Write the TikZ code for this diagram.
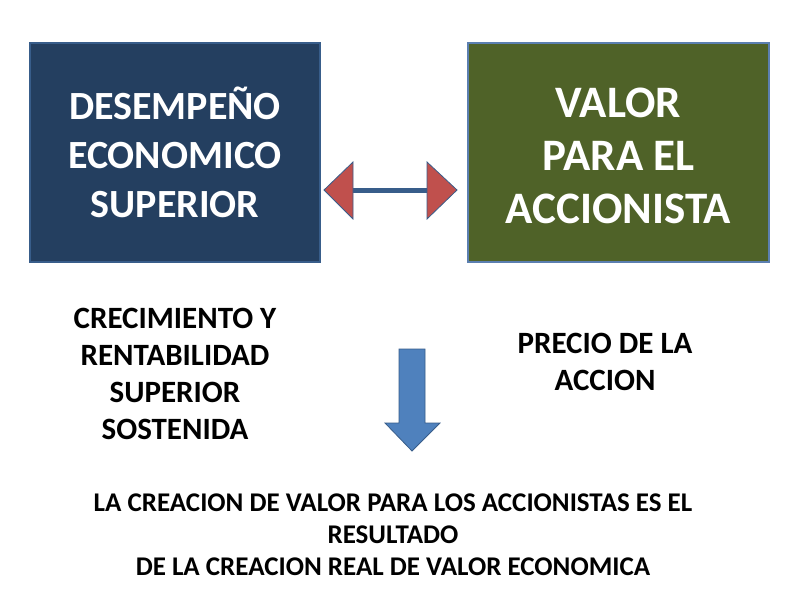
\documentclass[tikz,border=0pt]{standalone}
\usepackage{fontspec}
\setmainfont{Carlito}
\definecolor{azuloscuro}{HTML}{243F60}
\definecolor{bordeazul}{HTML}{385D8A}
\definecolor{verdeoliva}{HTML}{4F6228}
\definecolor{bordeverde}{HTML}{5B7FB0}
\definecolor{rojoflecha}{HTML}{C0504D}
\definecolor{azulflecha}{HTML}{4F81BD}
\tikzset{
  caja/.style={draw=#1, line width=1.2pt, minimum height=219pt, inner sep=0pt},
  textocaja/.style={text=white, align=center, font=\bfseries\fontsize{40}{49}\selectfont},
  textonegro/.style={text=black, align=center, font=\bfseries\fontsize{31}{37}\selectfont}
}
\begin{document}
\begin{tikzpicture}[x=1pt,y=-1pt]
				% fondo
				\useasboundingbox[fill=white] (0,0) rectangle (800,600);
				
				% cajas
				\node[caja=bordeazul, fill=azuloscuro, minimum width=290pt] (desempeno) at (175,152.5) {};
				\node[caja=bordeverde, fill=verdeoliva, minimum width=301pt] (valor) at (618.5,152.5) {};
				\node[textocaja] (tdesempeno) at (desempeno.center) {DESEMPEÑO\\ECONOMICO\\SUPERIOR};
				\node[textocaja, font=\bfseries\fontsize{45}{53}\selectfont] (tvalor) at (618.5,156) {VALOR\\PARA EL\\ACCIONISTA};
				
				% flecha doble
				\fill[bordeazul] (353,187.5) rectangle (427,193);
				\filldraw[fill=rojoflecha, draw=bordeazul, line width=0.8pt] (324,190) -- (353,162) -- (353,219) -- cycle;
				\filldraw[fill=rojoflecha, draw=bordeazul, line width=0.8pt] (457,190) -- (427,162) -- (427,219) -- cycle;
				
				% flecha hacia abajo
				\filldraw[fill=azulflecha, draw=bordeazul, line width=0.8pt]
				  (399,349) -- (425,349) -- (425,423) -- (440,423) -- (412,451) -- (385,423) -- (399,423) -- cycle;
				
				% textos
				\node[textonegro] (crecimiento) at (175,374) {CRECIMIENTO Y\\RENTABILIDAD\\SUPERIOR\\SOSTENIDA};
				\node[textonegro] (precio) at (605,361.5) {PRECIO DE LA\\ACCION};
				\node[textonegro, font=\bfseries\fontsize{27}{32}\selectfont] (creacion) at (393,535)
				  {LA CREACION DE VALOR PARA LOS ACCIONISTAS ES EL\\RESULTADO\\DE LA CREACION REAL DE VALOR ECONOMICA};
				
			\end{tikzpicture}
\end{document}
